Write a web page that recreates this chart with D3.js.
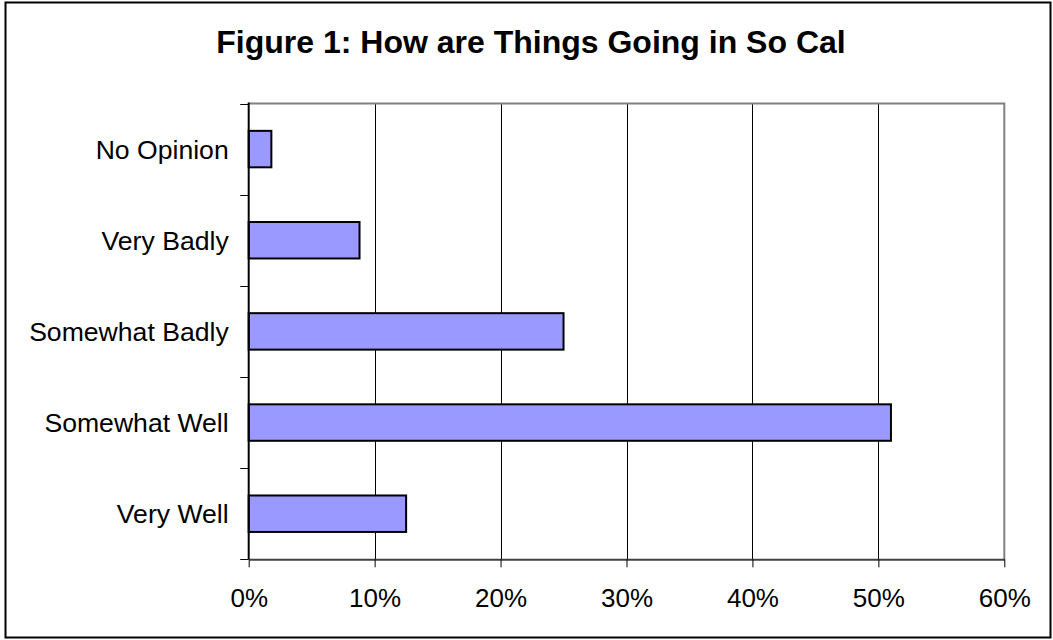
<!DOCTYPE html>
<html>
<head>
<meta charset="utf-8">
<script src="https://cdn.jsdelivr.net/npm/d3@7"></script>
<style>
  body { margin: 0; background: #fff; }
  text { font-family: "Liberation Sans", Arial, sans-serif; }
</style>
</head>
<body>
<svg id="chart" width="1053" height="640"></svg>
<script>
const title = "Figure 1: How are Things Going in So Cal";
const categories = ["No Opinion", "Very Badly", "Somewhat Badly", "Somewhat Well", "Very Well"];
const values = [0.018, 0.088, 0.25, 0.51, 0.125];
const xTicks = [0, 0.1, 0.2, 0.3, 0.4, 0.5, 0.6];

const svg = d3.select("#chart");
const W = 1053, H = 640;
const plot = { left: 248.7, right: 1004.3, top: 103.5, bottom: 559.3 };

// outer border
svg.append("rect")
  .attr("x", 5.5).attr("y", 2.5).attr("width", W - 8).attr("height", H - 5)
  .attr("fill", "#fff").attr("stroke", "#000").attr("stroke-width", 2);

// title
svg.append("text")
  .attr("x", 531).attr("y", 52.5)
  .attr("text-anchor", "middle")
  .attr("font-size", 32).attr("font-weight", "bold")
  .text(title);

const x = d3.scaleLinear().domain([0, 0.6]).range([plot.left, plot.right]);
const y = d3.scaleBand().domain(categories).range([plot.top, plot.bottom]).padding(0);
const barFrac = 0.4;

// gridlines
svg.append("g").selectAll("line")
  .data(xTicks.filter(t => t > 0 && t < 0.6))
  .join("line")
  .attr("x1", d => Math.round(x(d)) + 0.5).attr("x2", d => Math.round(x(d)) + 0.5)
  .attr("y1", plot.top).attr("y2", plot.bottom)
  .attr("stroke", "#000").attr("stroke-width", 1);

// plot area top & right border (grey)
svg.append("path")
  .attr("d", `M${plot.left},${plot.top}H${plot.right}V${plot.bottom}`)
  .attr("fill", "none").attr("stroke", "#808080").attr("stroke-width", 2);

// bars
svg.append("g").selectAll("rect")
  .data(categories.map((c, i) => ({ c, v: values[i] })))
  .join("rect")
  .attr("x", x(0))
  .attr("y", d => y(d.c) + y.bandwidth() * (1 - barFrac) / 2)
  .attr("width", d => x(d.v) - x(0))
  .attr("height", y.bandwidth() * barFrac)
  .attr("fill", "#9999FF").attr("stroke", "#000").attr("stroke-width", 2);

// x axis
const xAxis = d3.axisBottom(x).tickValues(xTicks).tickFormat(d3.format(".0%")).tickSizeInner(8).tickSizeOuter(0).tickPadding(20);
const gx = svg.append("g").attr("transform", `translate(0,${plot.bottom})`).call(xAxis);
gx.select(".domain").attr("stroke", "#404040").attr("stroke-width", 2);
gx.selectAll(".tick line").attr("stroke", "#000").attr("stroke-width", 1);
gx.selectAll(".tick text").attr("font-size", 26).attr("fill", "#000")
  .attr("font-family", "Liberation Sans, Arial, sans-serif")
  .attr("dy", null).attr("y", 47.3).attr("dominant-baseline", "auto");

// y axis (ticks at band boundaries)
const gy = svg.append("g");
gy.append("line")
  .attr("x1", plot.left).attr("x2", plot.left)
  .attr("y1", plot.top - 1).attr("y2", plot.bottom)
  .attr("stroke", "#000").attr("stroke-width", 2);
const bounds = categories.map(c => y(c)).concat([plot.bottom]);
gy.selectAll("line.tk").data(bounds).join("line").attr("class", "tk")
  .attr("x1", plot.left - 8.5).attr("x2", plot.left)
  .attr("y1", d => Math.round(d) + 0.5).attr("y2", d => Math.round(d) + 0.5)
  .attr("stroke", "#000").attr("stroke-width", 1);
gy.selectAll("text").data(categories).join("text")
  .attr("x", 228.7)
  .attr("y", d => y(d) + y.bandwidth() / 2 + 9.5)
  .attr("text-anchor", "end")
  .attr("font-size", 26.6).attr("fill", "#000")
  .text(d => d);
</script>
</body>
</html>
